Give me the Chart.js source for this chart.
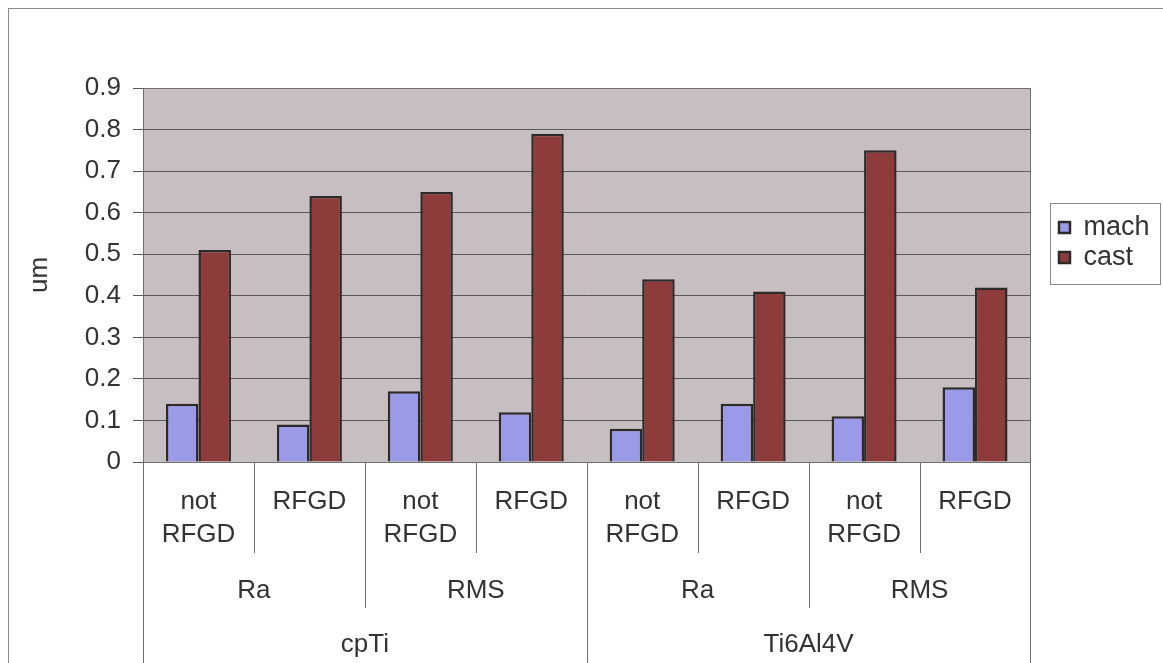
<!DOCTYPE html>
<html>
<head>
<meta charset="utf-8">
<script src="https://cdn.jsdelivr.net/npm/chart.js@4"></script>
<style>
  html, body { margin: 0; padding: 0; background: #fff; }
  #wrap { width: 1163px; height: 663px; }
</style>
</head>
<body>
<div id="wrap"><canvas id="c"></canvas></div>
<script>
// Three-level category axis, innermost first
const treatments = ['not RFGD', 'RFGD', 'not RFGD', 'RFGD', 'not RFGD', 'RFGD', 'not RFGD', 'RFGD']
const measures = ['Ra', 'RMS', 'Ra', 'RMS']
const materials = ['cpTi', 'Ti6Al4V']

const machValues = [0.14, 0.09, 0.17, 0.12, 0.08, 0.14, 0.11, 0.18]
const castValues = [0.51, 0.64, 0.65, 0.79, 0.44, 0.41, 0.75, 0.42]

const yTicks = [0, 0.1, 0.2, 0.3, 0.4, 0.5, 0.6, 0.7, 0.8, 0.9]

const FONT = '"Liberation Sans", Arial, sans-serif'
const TEXT = '#333333'
const LINE = '#707070'

const labels = treatments.map((t, i) =>
  [t, measures[Math.floor(i / 2)], materials[Math.floor(i / 4)]].join(' / '))

// Frame, plot background, nested axis labels and legend box
const excelLook = {
  id: 'excelLook',
  afterLayout(chart) {
    // pin the legend where the reference has it
    const lg = chart.legend
    const w = lg.right - lg.left
    lg.left = 1056
    lg.right = 1056 + w
    lg.top = 211
    lg.bottom = 211 + 66
  },
  beforeDraw(chart) {
    const { ctx, chartArea: a } = chart
    ctx.save()
    ctx.strokeStyle = '#8a8a8a'
    ctx.lineWidth = 1
    ctx.strokeRect(8.5, 8.5, chart.width + 20, chart.height + 20)
    ctx.fillStyle = '#c6bec0'
    ctx.fillRect(a.left, a.top, a.right - a.left, a.bottom - a.top)
    ctx.restore()
  },
  afterDraw(chart) {
    const { ctx, chartArea: a } = chart
    const x = chart.scales.x
    const step = x.getPixelForValue(1) - x.getPixelForValue(0)
    const edge = i => x.getPixelForValue(i) - step / 2
    const H = chart.height
    ctx.save()
    ctx.strokeStyle = LINE
    ctx.lineWidth = 1
    // plot frame
    ctx.strokeRect(Math.round(a.left) + 0.5, Math.round(a.top) + 0.5,
      Math.round(a.right - a.left), Math.round(a.bottom - a.top))
    // separators below the axis
    for (let i = 0; i <= treatments.length; i++) {
      let bottom = 553
      if (i % 2 === 0) bottom = 608
      if (i % 4 === 0) bottom = H
      const px = Math.round(edge(i)) + 0.5
      ctx.beginPath()
      ctx.moveTo(px, a.bottom)
      ctx.lineTo(px, bottom)
      ctx.stroke()
    }
    ctx.fillStyle = TEXT
    ctx.font = '26px ' + FONT
    ctx.textAlign = 'center'
    ctx.textBaseline = 'middle'
    treatments.forEach((t, i) => {
      const cx = x.getPixelForValue(i)
      const parts = t.split(' ')
      parts.forEach((p, k) => ctx.fillText(p, cx, 502 + k * 33))
    })
    measures.forEach((m, j) => {
      ctx.fillText(m, (edge(j * 2) + edge(j * 2 + 2)) / 2, 591)
    })
    materials.forEach((m, j) => {
      ctx.fillText(m, (edge(j * 4) + edge(j * 4 + 4)) / 2, 645)
    })
    // legend border
    ctx.strokeStyle = '#8a8a8a'
    ctx.strokeRect(1050.5, 203.5, 110, 81)
    ctx.restore()
  }
}

new Chart(document.getElementById('c'), {
  type: 'bar',
  data: {
    labels: labels,
    datasets: [
      {
        label: 'mach',
        data: machValues,
        backgroundColor: '#9a9ae8',
        borderColor: '#2e2a28',
        borderWidth: 2.5,
        borderSkipped: 'bottom'
      },
      {
        label: 'cast',
        data: castValues,
        backgroundColor: '#8e3b3b',
        borderColor: '#2e2a28',
        borderWidth: 2.5,
        borderSkipped: 'bottom'
      }
    ]
  },
  options: {
    responsive: true,
    maintainAspectRatio: false,
    animation: false,
    layout: { padding: { top: 88, left: 0, right: 29, bottom: 0 } },
    datasets: { bar: { categoryPercentage: 0.586, barPercentage: 1 } },
    plugins: {
      legend: {
        position: 'right',
        align: 'start',
        labels: {
          color: TEXT,
          font: { family: FONT, size: 27 },
          boxWidth: 11,
          boxHeight: 11,
          padding: 3
        }
      },
      tooltip: { enabled: false }
    },
    scales: {
      x: {
        ticks: { display: false },
        grid: { display: false },
        border: { display: true, color: LINE },
        afterFit(scale) { scale.height = 201 }
      },
      y: {
        min: 0,
        max: 0.9,
        afterBuildTicks(scale) { scale.ticks = yTicks.map(v => ({ value: v })) },
        ticks: {
          color: TEXT,
          font: { family: FONT, size: 26 },
          padding: 12,
          callback: v => String(Math.round(v * 10) / 10)
        },
        grid: { color: '#595959', lineWidth: 1, tickLength: 10 },
        border: { display: true, color: LINE },
        title: {
          display: true,
          text: 'um',
          color: TEXT,
          font: { family: FONT, size: 26 },
          padding: { top: 24, bottom: 0 }
        },
        afterFit(scale) { scale.width = 143 }
      }
    }
  },
  plugins: [excelLook]
})
</script>
</body>
</html>
